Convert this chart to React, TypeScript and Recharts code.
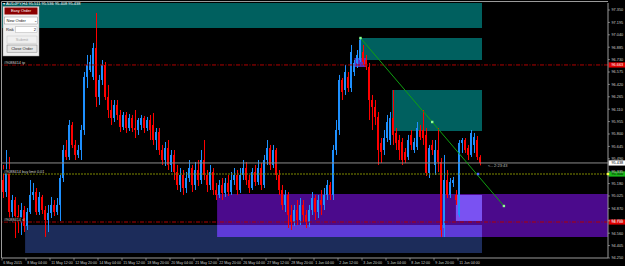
import React from 'react';
import {
  ComposedChart,
  Bar,
  XAxis,
  YAxis,
  ReferenceArea,
  ReferenceLine,
  ReferenceDot,
} from 'recharts';

// AUDJPY H4, 6 May - 11 Jun 2015
const TIME_LABELS = [
  '6 May 2015', '8 May 04:00', '11 May 12:00', '12 May 20:00', '14 May 04:00',
  '15 May 12:00', '18 May 20:00', '20 May 04:00', '21 May 12:00', '22 May 20:00',
  '26 May 04:00', '27 May 12:00', '28 May 20:00', '1 Jun 04:00', '2 Jun 12:00',
  '3 Jun 20:00', '5 Jun 04:00', '8 Jun 12:00', '9 Jun 20:00', '11 Jun 04:00',
];

const PRICE_TICKS = [
  97.35, 97.195, 97.04, 96.885, 96.73, 96.575, 96.42, 96.265, 96.11, 95.955,
  95.8, 95.645, 95.49, 95.335, 95.18, 95.025, 94.87, 94.715, 94.56, 94.405, 94.25,
];

const OPEN = [
  95.225, 95.075, 95.313, 94.825, 94.975, 94.775, 94.700, 94.850, 94.650, 94.825,
  95.038, 95.075, 94.825, 95.013, 94.850, 94.725, 94.813, 94.913, 94.825, 94.913,
  95.250, 95.600, 95.513, 95.913, 95.663, 95.538, 95.600, 95.850, 96.513, 96.600,
  96.513, 96.875, 96.263, 96.475, 96.663, 96.263, 96.100, 96.000, 96.163, 96.038,
  95.888, 96.038, 95.875, 96.000, 95.875, 95.850, 95.913, 96.000, 95.875, 95.975,
  95.913, 95.725, 95.825, 95.600, 95.475, 95.625, 95.413, 95.538, 95.325, 95.163,
  95.288, 95.125, 95.250, 95.375, 95.163, 95.350, 95.225, 95.475, 95.288, 95.163,
  95.325, 95.100, 95.038, 95.163, 95.063, 95.188, 95.075, 95.225, 95.288, 95.100,
  95.288, 95.375, 95.225, 95.125, 95.325, 95.200, 95.375, 95.163, 95.475, 95.625,
  95.413, 95.600, 95.288, 95.100, 94.913, 95.038, 94.788, 94.700, 94.850, 94.725,
  94.913, 94.788, 94.700, 94.850, 95.000, 94.825, 94.975, 94.913, 95.038, 95.163,
  95.038, 95.600, 95.850, 96.475, 96.350, 96.513, 96.375, 96.575, 96.688, 96.725,
  96.825, 96.725, 96.638, 96.225, 96.138, 96.013, 95.688, 95.600, 95.750, 95.725,
  96.000, 95.813, 95.725, 95.700, 95.575, 95.513, 95.788, 95.600, 95.638, 95.850,
  95.850, 95.788, 95.313, 95.663, 95.413, 95.600, 95.450, 94.625, 95.225, 95.038,
  95.188, 95.038, 94.788, 95.688, 95.725, 95.625, 95.538, 95.663, 95.725, 95.511,
];

const HIGH = [
  95.413, 95.600, 95.513, 95.038, 95.013, 94.913, 94.938, 94.900, 94.875, 95.225,
  95.188, 95.125, 95.075, 95.038, 94.900, 94.913, 95.013, 94.975, 95.000, 95.288,
  95.663, 95.725, 95.975, 95.950, 95.725, 95.663, 95.913, 96.575, 96.788, 96.788,
  96.938, 97.313, 96.538, 96.725, 96.700, 96.413, 96.225, 96.225, 96.225, 96.100,
  96.075, 96.075, 96.050, 96.038, 96.100, 96.000, 96.038, 96.025, 96.013, 96.038,
  96.063, 95.875, 95.875, 95.663, 95.700, 95.725, 95.600, 95.600, 95.413, 95.375,
  95.350, 95.325, 95.475, 95.413, 95.450, 95.475, 95.600, 95.725, 95.350, 95.413,
  95.375, 95.188, 95.225, 95.250, 95.250, 95.288, 95.325, 95.375, 95.350, 95.375,
  95.475, 95.450, 95.288, 95.375, 95.413, 95.475, 95.438, 95.538, 95.725, 95.663,
  95.663, 95.625, 95.350, 95.163, 95.100, 95.075, 94.913, 94.913, 94.975, 95.000,
  94.975, 94.850, 94.913, 95.075, 95.038, 95.038, 95.100, 95.125, 95.225, 95.200,
  95.663, 95.975, 96.538, 96.500, 96.663, 96.575, 96.913, 96.725, 96.850, 97.000,
  96.913, 96.788, 96.688, 96.288, 96.225, 96.075, 95.750, 95.850, 96.038, 96.075,
  96.350, 95.875, 95.788, 95.750, 95.625, 95.788, 95.850, 95.750, 95.950, 95.913,
  96.100, 95.875, 95.663, 95.725, 95.725, 95.875, 95.500, 95.538, 95.350, 95.250,
  95.263, 95.100, 95.725, 95.750, 95.750, 95.663, 95.850, 95.813, 95.775, 95.536,
];

const LOW = [
  95.000, 95.013, 94.725, 94.700, 94.500, 94.563, 94.538, 94.575, 94.600, 94.800,
  94.975, 94.788, 94.788, 94.800, 94.513, 94.575, 94.750, 94.775, 94.788, 94.713,
  95.200, 95.475, 95.475, 95.625, 95.475, 95.500, 95.475, 95.788, 96.375, 96.575,
  96.475, 96.138, 96.163, 96.413, 96.225, 96.000, 95.913, 95.950, 95.975, 95.825,
  95.850, 95.813, 95.838, 95.825, 95.750, 95.788, 95.850, 95.813, 95.838, 95.725,
  95.663, 95.600, 95.538, 95.413, 95.400, 95.350, 95.325, 95.225, 95.100, 95.075,
  95.038, 95.063, 95.200, 95.075, 95.100, 95.150, 95.175, 95.225, 95.075, 95.100,
  95.038, 94.975, 95.000, 94.975, 95.013, 95.025, 95.038, 95.163, 95.038, 95.063,
  95.225, 95.163, 95.063, 95.100, 95.150, 95.163, 95.100, 95.125, 95.413, 95.350,
  95.375, 95.225, 95.038, 94.850, 94.825, 94.625, 94.600, 94.650, 94.663, 94.663,
  94.700, 94.625, 94.638, 94.788, 94.725, 94.750, 94.788, 94.850, 94.975, 94.975,
  94.975, 95.538, 95.788, 96.225, 96.288, 96.325, 96.325, 96.525, 96.625, 96.700,
  96.663, 96.600, 95.975, 95.850, 95.913, 95.413, 95.438, 95.538, 95.700, 95.663,
  95.663, 95.600, 95.475, 95.413, 95.438, 95.475, 95.600, 95.563, 95.600, 95.725,
  95.663, 95.275, 95.250, 95.538, 95.288, 95.325, 94.513, 94.513, 95.000, 95.000,
  95.138, 94.913, 94.763, 95.563, 95.563, 95.475, 95.513, 95.563, 95.475, 95.408,
];

const CLOSE = [
  95.075, 95.313, 94.825, 94.975, 94.775, 94.700, 94.850, 94.650, 94.825, 95.038,
  95.075, 94.825, 95.013, 94.850, 94.725, 94.813, 94.913, 94.825, 94.913, 95.250,
  95.600, 95.513, 95.913, 95.663, 95.538, 95.600, 95.850, 96.513, 96.663, 96.700,
  96.875, 96.263, 96.475, 96.663, 96.263, 96.100, 96.000, 96.163, 96.038, 95.888,
  96.038, 95.875, 96.000, 95.875, 95.850, 95.975, 96.000, 95.875, 95.975, 95.850,
  95.725, 95.825, 95.600, 95.475, 95.625, 95.413, 95.538, 95.325, 95.163, 95.288,
  95.125, 95.250, 95.375, 95.163, 95.350, 95.225, 95.475, 95.288, 95.163, 95.325,
  95.100, 95.038, 95.163, 95.063, 95.188, 95.075, 95.225, 95.288, 95.100, 95.288,
  95.375, 95.225, 95.125, 95.325, 95.200, 95.375, 95.163, 95.475, 95.625, 95.413,
  95.600, 95.288, 95.100, 94.913, 95.038, 94.788, 94.700, 94.850, 94.725, 94.913,
  94.788, 94.700, 94.850, 95.000, 94.825, 94.975, 94.913, 95.038, 95.163, 95.038,
  95.600, 95.850, 96.475, 96.325, 96.575, 96.375, 96.825, 96.688, 96.788, 96.975,
  96.700, 96.638, 96.225, 96.138, 96.013, 95.600, 95.575, 95.750, 95.950, 96.000,
  95.788, 95.688, 95.600, 95.475, 95.475, 95.725, 95.663, 95.700, 95.875, 95.763,
  95.750, 95.313, 95.625, 95.600, 95.600, 95.450, 94.600, 95.225, 95.038, 95.200,
  95.225, 94.975, 95.688, 95.725, 95.600, 95.538, 95.813, 95.763, 95.513, 95.438,
];

// chart objects (time in bar units, price)
const TP_PRICE = 96.663;
const SL_PRICE = 94.7;
const BID_PRICE = 95.438;
const BUY_LIMIT_PRICE = 95.3;
const TREND_START = { x: 119.5, y: 97.0 };
const TREND_END = { x: 167.3, y: 94.9 };

const BULL = '#1e90ff';
const BEAR = '#ff0000';
const TEAL = '#00605f';
const FONT = '"Liberation Sans", Arial, sans-serif';

const rows = OPEN.map((o, i) => ({
  t: i + 0.5,
  o,
  h: HIGH[i],
  l: LOW[i],
  c: CLOSE[i],
  range: [LOW[i], HIGH[i]],
}));

const Candle = (props: any) => {
  const { x, y, width, height, payload } = props;
  if (!payload || !isFinite(y) || !isFinite(height)) return null;
  const { o, h, l, c } = payload;
  const top = Math.min(y, y + height);
  const bottom = Math.max(y, y + height);
  const ppu = (bottom - top) / (h - l || 1);
  const yOf = (p: number) => top + (h - p) * ppu;
  const color = c >= o ? BULL : BEAR;
  const cx = x + width / 2;
  const bTop = yOf(Math.max(o, c));
  const bBot = yOf(Math.min(o, c));
  return (
    <g>
      <rect x={Math.floor(cx)} y={top} width={1} height={bottom - top} fill={color} />
      <rect
        x={Math.round(cx - 1)}
        y={bTop}
        width={2}
        height={Math.max(1, bBot - bTop)}
        fill={color}
      />
    </g>
  );
};

const PriceTick = (props: any) => {
  const { x, y, payload } = props;
  return (
    <g>
      <line x1={x} x2={x + 2} y1={y} y2={y} stroke="#bbbbbb" strokeWidth={0.6} />
      <text x={x + 3.5} y={y + 1.4} fontSize={3.8} fill="#cfcfcf" fontFamily={FONT}>
        {payload.value.toFixed(3)}
      </text>
    </g>
  );
};

const TimeTick = (props: any) => {
  const { x, y, payload } = props;
  const idx = Math.round(payload.value / 8);
  return (
    <g>
      <line x1={x} x2={x} y1={y} y2={y + 2.5} stroke="#bbbbbb" strokeWidth={0.6} />
      <text x={x + 1.3} y={y + 6.3} fontSize={3.6} fill="#cfcfcf" fontFamily={FONT}>
        {TIME_LABELS[idx]}
      </text>
    </g>
  );
};

const lineTag =
  (caption: string, tag: string, bg: string, fg: string) => (props: any) => {
    const vb = props.viewBox;
    if (!vb) return null;
    const y = vb.y;
    const right = vb.x + vb.width;
    return (
      <g>
        {caption ? (
          <g>
            <rect x={vb.x + 1} y={y - 4.6} width={caption.length * 1.75} height={4} fill="#000" />
            <text x={vb.x + 2} y={y - 1.2} fontSize={3.8} fill="#cfcfcf" fontFamily={FONT}>
              {caption}
            </text>
          </g>
        ) : null}
        <rect x={right + 0.5} y={y - 2.6} width={16.5} height={5.2} fill={bg} />
        <text x={right + 3.5} y={y + 1.4} fontSize={3.8} fill={fg} fontFamily={FONT}>
          {tag}
        </text>
      </g>
    );
  };

const squareDot = (fill: string) => (props: any) => (
  <rect x={props.cx - 1.2} y={props.cy - 1.2} width={2.4} height={2.4} fill={fill} />
);

const Overlay = () => (
  <svg
    width={625}
    height={266}
    style={{ position: 'absolute', left: 0, top: 0, pointerEvents: 'none' }}
    fontFamily={FONT}
  >
    <line x1={1.5} x2={608} y1={1.5} y2={1.5} stroke="#9a9a9a" strokeWidth={1} />
    <line x1={1.5} x2={1.5} y1={1.5} y2={258} stroke="#9a9a9a" strokeWidth={1} />
    <text x={3} y={5.4} fontSize={4} fill="#ffffff">
      ▾ AUDJPY,H4 95.511 95.536 95.408 95.438
    </text>
    {/* Easy Order panel */}
    <rect x={3} y={6.5} width={36} height={49.5} fill="#f0f0f0" stroke="#9c9c9c" strokeWidth={0.5} />
    <rect x={4.5} y={7.5} width={33} height={7} fill="#8b0000" />
    <text x={21} y={12.4} fontSize={4} fill="#ffffff" textAnchor="middle">Easy Order</text>
    <rect x={4.5} y={17} width={33} height={7} fill="#ffffff" stroke="#7a7a7a" strokeWidth={0.4} />
    <text x={6.5} y={21.9} fontSize={4} fill="#111">New Order</text>
    <text x={33.5} y={21.6} fontSize={4} fill="#333">⌄</text>
    <text x={6} y={31.2} fontSize={4} fill="#111">Risk</text>
    <rect x={15.5} y={26.8} width={21.5} height={5.8} fill="#ffffff" stroke="#a0a0a0" strokeWidth={0.4} />
    <text x={36} y={31.3} fontSize={4} fill="#111" textAnchor="end">2</text>
    <rect x={7} y={36} width={30} height={7.2} fill="#f0f0f0" stroke="#c4c4c4" strokeWidth={0.5} />
    <text x={22} y={41} fontSize={4} fill="#a8a8a8" textAnchor="middle">Submit</text>
    <rect x={7} y={45} width={30} height={7.2} fill="#e6e6e6" stroke="#7c7c7c" strokeWidth={0.5} />
    <text x={22} y={50} fontSize={4} fill="#222" textAnchor="middle">Close Order</text>
    {/* bar countdown */}
    <text x={488} y={167} fontSize={4} fill="#bdbdbd">{'<-- 2:23:43'}</text>
  </svg>
);

export default function App() {
  return (
    <div
      style={{
        position: 'absolute',
        left: 0,
        top: 0,
        width: 625,
        height: 266,
        background: '#000000',
        overflow: 'hidden',
      }}
    >
      <ComposedChart
        width={625}
        height={266}
        data={rows}
        margin={{ top: 3, right: 0, bottom: 0, left: 2 }}
      >
        <XAxis
          dataKey="t"
          type="number"
          domain={[0, 202]}
          ticks={TIME_LABELS.map((_, k) => k * 8)}
          interval={0}
          height={8}
          tickSize={0}
          tickMargin={0}
          tick={<TimeTick />}
          axisLine={{ stroke: '#9a9a9a' }}
          allowDataOverflow
        />
        <YAxis
          orientation="right"
          width={17}
          type="number"
          domain={[94.25, 97.4375]}
          ticks={PRICE_TICKS}
          interval={0}
          tickSize={0}
          tickMargin={0}
          tick={<PriceTick />}
          axisLine={{ stroke: '#9a9a9a' }}
          allowDataOverflow
        />

        <ReferenceArea x1={0} x2={160} y1={97.125} y2={97.4375} fill={TEAL} fillOpacity={1} ifOverflow="hidden" />
        <ReferenceArea x1={119} x2={160} y1={96.725} y2={97.0} fill={TEAL} fillOpacity={1} />
        <ReferenceArea x1={130} x2={160} y1={95.838} y2={96.35} fill={TEAL} fillOpacity={1} />
        <ReferenceArea x1={71.7} x2={202} y1={94.513} y2={95.05} fill="#4b0a8c" fillOpacity={1} />
        <ReferenceArea x1={7.7} x2={160} y1={94.313} y2={94.663} fill="#1c2c5a" fillOpacity={1} />
        <ReferenceArea x1={71.7} x2={160} y1={94.513} y2={94.663} fill="#5e3bd6" fillOpacity={1} />
        <ReferenceArea x1={151.3} x2={160} y1={94.713} y2={95.038} fill="#7a52f2" fillOpacity={1} />
        <ReferenceArea x1={117.5} x2={121.5} y1={96.638} y2={96.75} fill="#5a30c0" fillOpacity={1} />

        <ReferenceLine
          y={TP_PRICE}
          stroke="#b00000"
          strokeDasharray="4 1.5 1 1.5"
          label={lineTag('#9088414 tp', '96.663', '#e00000', '#ffffff')}
        />
        <ReferenceLine
          y={SL_PRICE}
          stroke="#b00000"
          strokeDasharray="4 1.5 1 1.5"
          label={lineTag('#9088414 sl', '94.700', '#e00000', '#ffffff')}
        />
        <ReferenceLine
          y={BID_PRICE}
          stroke="#8c8c8c"
          label={lineTag('', '95.438', '#ffffff', '#000000')}
        />
        <ReferenceLine
          y={BUY_LIMIT_PRICE}
          stroke="#7f8a00"
          strokeDasharray="2 1"
          label={lineTag('#9088414 buy limit 0.01', '95.300', '#19b719', '#000000')}
        />

        <Bar
          dataKey="range"
          shape={<Candle />}
          barSize={3}
          isAnimationActive={false}
        />

        <ReferenceLine
          segment={[TREND_START, TREND_END]}
          stroke="#10a010"
          ifOverflow="visible"
        />
        <ReferenceDot x={TREND_START.x} y={TREND_START.y} r={1.2} shape={squareDot('#8dff8d')} ifOverflow="visible" />
        <ReferenceDot
          x={(TREND_START.x + TREND_END.x) / 2}
          y={(TREND_START.y + TREND_END.y) / 2}
          r={1.2}
          shape={squareDot('#8dff8d')}
        />
        <ReferenceDot x={TREND_END.x} y={TREND_END.y} r={1.2} shape={squareDot('#8dff8d')} ifOverflow="visible" />
        <ReferenceDot x={158.7} y={BUY_LIMIT_PRICE} r={1.2} shape={squareDot('#4f6cff')} />
        <ReferenceDot x={202} y={BUY_LIMIT_PRICE} r={1.2} shape={squareDot('#ffff40')} ifOverflow="visible" />
      </ComposedChart>
      <Overlay />
    </div>
  );
}
